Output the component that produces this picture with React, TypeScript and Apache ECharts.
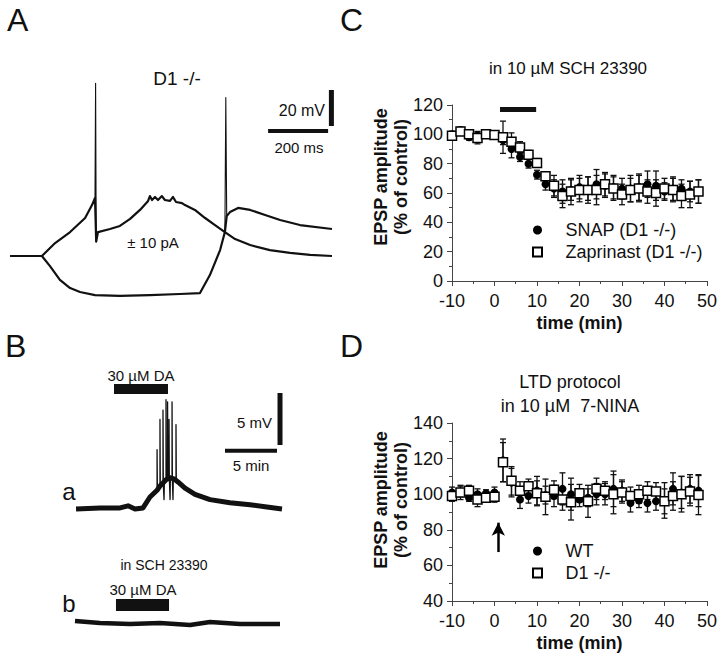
import React, { useEffect, useRef } from 'react';
import * as echarts from 'echarts';

const FONT = '"Liberation Sans", Arial, Helvetica, sans-serif';

// ---------- Panel A: current-clamp traces (time ms, membrane potential mV)
const depolTrace: [number, number][] = [
  [7, -70], [113, -70], [157, -62.8], [207, -56.7], [257, -48.9], [280, -41.7], [290, -37.8],
  [294, -62], [300, -56.7], [340, -55], [373, -53.3], [407, -49.4], [440, -44.4], [467, -39.4],
  [473, -36.7], [480, -38.9], [490, -37.2], [500, -38.9], [513, -36.7], [523, -38.9], [540, -39.4],
  [550, -37.2], [560, -40], [580, -40.6], [590, -41.7], [623, -44.4], [657, -48.9], [690, -52.8],
  [723, -56.7], [757, -60.6], [807, -63.9], [873, -66.7], [940, -68.3], [1007, -69.4], [1080, -70],
];
const depolSpike: [number, number][] = [[290, -37.8], [292, 26], [294, -62]];
const hyperTrace: [number, number][] = [
  [7, -70], [113, -70], [140, -75.6], [173, -83.3], [207, -87.8], [240, -90], [290, -91.7],
  [373, -92.2], [473, -91.7], [573, -91.1], [640, -90.6], [673, -80.6], [707, -66.7], [723, -56.7],
  [729, -47.8], [740, -45.6], [767, -43.3], [807, -44.4], [857, -47.2], [907, -50], [973, -52.8],
  [1080, -55],
];
const hyperSpike: [number, number][] = [[723, -56.7], [726, 18], [729, -47.8]];
const scaleA_mV: [number, number][] = [[1078, 2.2], [1078, 22.2]];
const scaleA_ms: [number, number][] = [[867, -0.6], [1067, -0.6]];

// ---------- Panel B: slow recordings (time min, potential mV, offset)
const traceA: [number, number][] = [
  [0.58, 12.6], [2.88, 12.7], [4.81, 12.7], [5.58, 12.9], [6.25, 12.6], [7.02, 12.7], [7.69, 13.75],
  [8.37, 14.4], [8.65, 14.8], [8.94, 15.1], [9.23, 15.4], [9.62, 15.6], [10.0, 15.5], [10.38, 15.2],
  [11.06, 14.6], [12.02, 14.0], [13.46, 13.5], [15.38, 13.2], [17.31, 13.0], [20.38, 12.6],
];
const spikesA: [number, number][] = [
  [8.37, 14.4], [8.37, 18.3], [8.4, 14.5], [8.65, 14.8], [8.65, 21.2], [8.68, 14.9], [8.94, 15.1],
  [8.94, 22.1], [8.97, 15], [9.04, 13.5], [9.07, 15.2], [9.23, 15.4], [9.23, 23.1], [9.26, 15.4],
  [9.38, 15.5], [9.38, 22.9], [9.41, 15.5], [9.52, 15.6], [9.52, 21.2], [9.55, 15.6], [9.62, 13.5],
  [9.65, 15.6], [9.81, 15.5], [9.81, 22.9], [9.84, 15.5], [9.9, 13.5], [9.93, 15.4], [10.19, 15.3],
  [10.19, 20.7], [10.22, 15.2],
];
const traceB: [number, number][] = [
  [0.48, 1.83], [2.88, 1.63], [5.77, 1.54], [8.65, 1.63], [11.54, 1.44], [13.46, 1.73], [16.35, 1.54],
  [20.19, 1.54],
];
const daBarA: [number, number][] = [[4.23, 24.13], [9.42, 24.13]];
const daBarB: [number, number][] = [[4.42, 3.37], [9.52, 3.37]];
const scaleB_mV: [number, number][] = [[20.19, 18.75], [20.19, 23.75]];
const scaleB_min: [number, number][] = [[14.9, 18.2], [19.9, 18.2]];

// ---------- Panel C / D: EPSP amplitude (% of control)
const timeMin = [-10, -8, -6, -4, -2, 0, 2, 4, 6, 8, 10, 12, 14, 16, 18, 20, 22, 24, 26, 28, 30, 32, 34, 36, 38, 40, 42, 44, 46, 48];
const xTicks = [-10, 0, 10, 20, 30, 40, 50];
const yTicksC = [0, 20, 40, 60, 80, 100, 120];
const yTicksD = [40, 60, 80, 100, 120, 140];

const snapAmp = [100, 103, 98, 99, 100, 99, 96, 90, 84.5, 80, 72.5, 66, 63, 61, 62, 64, 63, 66, 65, 64, 63, 63, 64, 66, 65, 61, 63, 63, 61, 61];
const snapErr = [2, 2, 2, 3, 2, 2, 3, 6, 3, 3, 3, 4, 6, 8, 7, 8, 8, 10, 8, 8, 7, 9, 9, 9, 10, 6, 8, 6, 7, 8];
const zapAmp = [99, 102, 100, 97.5, 100, 99.5, 98, 95, 91, 86, 80.5, 71.5, 65, 58, 61, 62, 62, 62, 66, 63, 59, 62, 63, 61, 60, 63, 62, 58, 59, 61];
const zapErr = [2, 2, 2, 4, 2, 2, 11, 6, 4, 3, 3, 3, 7, 8, 9, 8, 9, 10, 8, 8, 7, 8, 9, 8, 9, 7, 8, 8, 9, 8];
const drugBarC: [number, number][] = [[1.3, 117], [9.8, 117]];

const wtAmp = [101, 101.5, 98, 100, 100.5, 101, 119, 106.5, 97, 99, 102, 99.5, 99, 103, 100, 97, 98, 100, 100, 103, 102, 95, 96.5, 95, 96, 96.5, 103, 101, 103, 102];
const wtErr = [3, 3, 2, 3, 2, 3, 12, 8, 5, 4, 8, 5, 6, 9, 9, 4, 5, 6, 6, 10, 6, 5, 4, 5, 5, 10, 9, 9, 8, 9];
const d1Amp = [99, 101, 102, 97, 98, 98.5, 118, 107.5, 102, 104.5, 100.5, 98.5, 102.5, 97, 95.5, 100.5, 96, 103, 102, 100, 101, 99, 100, 102, 101.5, 96, 99, 100, 101.5, 99.5];
const d1Err = [3, 4, 3, 4, 2, 3, 11, 8, 5, 4, 7, 10, 5, 6, 10, 5, 9, 6, 5, 11, 6, 5, 5, 5, 5, 7, 8, 10, 8, 11];
const arrowTime = 0.9;
const arrowFrom = 67.5;
const arrowTo = 84;

const BLACK = '#111';
const AX = '#444';

function hiddenAxis(gridIndex: number, min: number, max: number) {
  return { type: 'value', gridIndex, min, max, show: false, splitLine: { show: false } };
}

function plotXAxis(gridIndex: number) {
  return {
    type: 'value', gridIndex,
    min: xTicks[0], max: xTicks[xTicks.length - 1], interval: xTicks[1] - xTicks[0],
    axisLine: { show: true, onZero: false, lineStyle: { color: AX, width: 1 } },
    axisTick: { show: true, inside: false, length: 5, lineStyle: { color: AX } },
    minorTick: { show: true, splitNumber: 2, length: 3, lineStyle: { color: AX } },
    splitLine: { show: false },
    axisLabel: { fontSize: 18, color: BLACK, margin: 11, fontFamily: FONT },
    name: 'time (min)', nameLocation: 'middle', nameGap: 33,
    nameTextStyle: { fontSize: 18, fontWeight: 'bold', color: BLACK, fontFamily: FONT },
  };
}

function plotYAxis(gridIndex: number, ticks: number[]) {
  return {
    type: 'value', gridIndex,
    min: ticks[0], max: ticks[ticks.length - 1], interval: ticks[1] - ticks[0],
    axisLine: { show: true, onZero: false, lineStyle: { color: AX, width: 1 } },
    axisTick: { show: true, inside: false, length: 5, lineStyle: { color: AX } },
    minorTick: { show: true, splitNumber: 2, length: 3, lineStyle: { color: AX } },
    splitLine: { show: false },
    axisLabel: { fontSize: 18, color: BLACK, margin: 9, fontFamily: FONT },
  };
}

function traceSeries(data: [number, number][], idx: number, width: number, z = 2) {
  return {
    type: 'line', xAxisIndex: idx, yAxisIndex: idx, data, showSymbol: false, symbol: 'none',
    silent: true, z, lineStyle: { color: BLACK, width, cap: 'butt', join: 'round', opacity: 1 },
  };
}

function errorSeries(idx: number, amp: number[], err: number[]) {
  return {
    type: 'custom', xAxisIndex: idx, yAxisIndex: idx, silent: true, z: 2, clip: false,
    data: timeMin.map((t, i) => [t, amp[i], err[i]]),
    encode: { x: 0, y: 1 },
    renderItem: (params: any, api: any) => {
      const x = api.value(0), y = api.value(1), e = api.value(2);
      const top = api.coord([x, y + e]);
      const bot = api.coord([x, y - e]);
      const hw = 3;
      const st = { stroke: BLACK, lineWidth: 1.3 };
      return {
        type: 'group',
        children: [
          { type: 'line', shape: { x1: top[0], y1: top[1], x2: bot[0], y2: bot[1] }, style: st },
          { type: 'line', shape: { x1: top[0] - hw, y1: top[1], x2: top[0] + hw, y2: top[1] }, style: st },
          { type: 'line', shape: { x1: bot[0] - hw, y1: bot[1], x2: bot[0] + hw, y2: bot[1] }, style: st },
        ],
      };
    },
  };
}

function scatterSeries(name: string, idx: number, amp: number[], filled: boolean) {
  return {
    type: 'scatter', name, xAxisIndex: idx, yAxisIndex: idx, silent: true,
    z: filled ? 3 : 4,
    symbol: filled ? 'circle' : 'rect',
    symbolSize: filled ? 8 : 9,
    itemStyle: filled
      ? { color: '#000', opacity: 1 }
      : { color: '#fff', borderColor: '#000', borderWidth: 1.5, opacity: 1 },
    data: timeMin.map((t, i) => [t, amp[i]]),
  };
}

function txt(text: string, x: number, y: number, size: number, align = 'center', extra: any = {}) {
  return {
    type: 'text', x, y, silent: true,
    style: { text, fontSize: size, fontFamily: FONT, fill: BLACK, textAlign: align, textVerticalAlign: 'middle', ...extra },
  };
}

function rotTxt(text: string, x: number, y: number) {
  return {
    type: 'text', x, y, rotation: Math.PI / 2, silent: true,
    style: { text, fontSize: 18, fontWeight: 'bold', fontFamily: FONT, fill: BLACK, textAlign: 'center', textVerticalAlign: 'middle' },
  };
}

const SQUARE_ICON = 'path://M0,0L10,0L10,10L0,10Z';

const legendBase = {
  orient: 'vertical', itemWidth: 46, itemHeight: 9, itemGap: 4, padding: 0,
  selectedMode: false, textStyle: { fontSize: 18, color: BLACK, fontFamily: FONT },
  itemStyle: { opacity: 1 },
};

const option: any = {
  animation: false,
  backgroundColor: '#fff',
  grid: [
    { left: 8, top: 76, width: 330, height: 234 },
    { left: 70, top: 380, width: 220, height: 260 },
    { left: 452, top: 105, width: 255, height: 176 },
    { left: 452, top: 423, width: 255, height: 178 },
  ],
  xAxis: [hiddenAxis(0, 0, 1100), hiddenAxis(1, 0, 21.15), plotXAxis(2), plotXAxis(3)],
  yAxis: [hiddenAxis(0, -100, 30), hiddenAxis(1, 0, 25), plotYAxis(2, yTicksC), plotYAxis(3, yTicksD)],
  legend: [
    {
      ...legendBase,
      data: [{ name: 'SNAP (D1 -/-)', icon: 'circle' }, { name: 'Zaprinast (D1 -/-)', icon: SQUARE_ICON }],
      left: 532, top: 221,
    },
    {
      ...legendBase,
      data: [{ name: 'WT', icon: 'circle' }, { name: 'D1 -/-', icon: SQUARE_ICON }],
      left: 532, top: 542,
    },
  ],
  series: [
    // Panel A
    traceSeries(depolTrace, 0, 2.2),
    traceSeries(depolSpike, 0, 1.1),
    traceSeries(hyperTrace, 0, 2.2),
    traceSeries(hyperSpike, 0, 1.1),
    traceSeries(scaleA_mV, 0, 5),
    traceSeries(scaleA_ms, 0, 4),
    // Panel B
    traceSeries(traceA, 1, 5),
    traceSeries(spikesA, 1, 1.3),
    traceSeries(traceB, 1, 4.5),
    traceSeries(daBarA, 1, 10),
    traceSeries(daBarB, 1, 12),
    traceSeries(scaleB_mV, 1, 5),
    traceSeries(scaleB_min, 1, 4),
    // Panel C
    errorSeries(2, snapAmp, snapErr),
    errorSeries(2, zapAmp, zapErr),
    scatterSeries('SNAP (D1 -/-)', 2, snapAmp, true),
    scatterSeries('Zaprinast (D1 -/-)', 2, zapAmp, false),
    traceSeries(drugBarC, 2, 5),
    // Panel D
    errorSeries(3, wtAmp, wtErr),
    errorSeries(3, d1Amp, d1Err),
    scatterSeries('WT', 3, wtAmp, true),
    scatterSeries('D1 -/-', 3, d1Amp, false),
    {
      type: 'line', xAxisIndex: 3, yAxisIndex: 3, data: [], silent: true,
      markLine: {
        silent: true, symbol: ['none', 'arrow'], symbolSize: [10, 13], animation: false,
        label: { show: false },
        lineStyle: { color: '#000', width: 2.5, type: 'solid', opacity: 1 },
        data: [[{ coord: [arrowTime, arrowFrom] }, { coord: [arrowTime, arrowTo] }]],
      },
    },
  ],
  graphic: [
    txt('A', 7, 20, 32, 'left'),
    txt('B', 5, 346, 32, 'left'),
    txt('C', 340, 20, 32, 'left'),
    txt('D', 340, 346, 32, 'left'),
    txt('D1 -/-', 177, 78, 19),
    txt('± 10 pA', 153, 242, 15),
    txt('20 mV', 325, 110, 16, 'right'),
    txt('200 ms', 299, 147, 15),
    txt('30 µM DA', 141, 375, 15),
    txt('5 mV', 272, 422, 15, 'right'),
    txt('5 min', 251, 465, 15),
    txt('a', 69, 491, 24),
    txt('in SCH 23390', 164, 565, 14),
    txt('30 µM DA', 143, 589, 15),
    txt('b', 69, 603, 24),
    txt('in 10 µM SCH 23390', 568, 68, 17),
    txt('LTD protocol', 570, 382, 18),
    txt('in 10 µM  7-NINA', 570, 406, 18),
    rotTxt('EPSP amplitude', 381, 177),
    rotTxt('(% of control)', 401, 177),
    rotTxt('EPSP amplitude', 381, 500),
    rotTxt('(% of control)', 401, 500),
  ],
};

export default function App() {
  const ref = useRef<HTMLDivElement>(null);
  useEffect(() => {
    if (!ref.current) return;
    const chart = echarts.init(ref.current, null, { renderer: 'svg' });
    chart.setOption(option);
    return () => chart.dispose();
  }, []);
  return (
    <div
      ref={ref}
      style={{ position: 'fixed', left: 0, top: 0, width: 720, height: 660, background: '#fff' }}
    />
  );
}
